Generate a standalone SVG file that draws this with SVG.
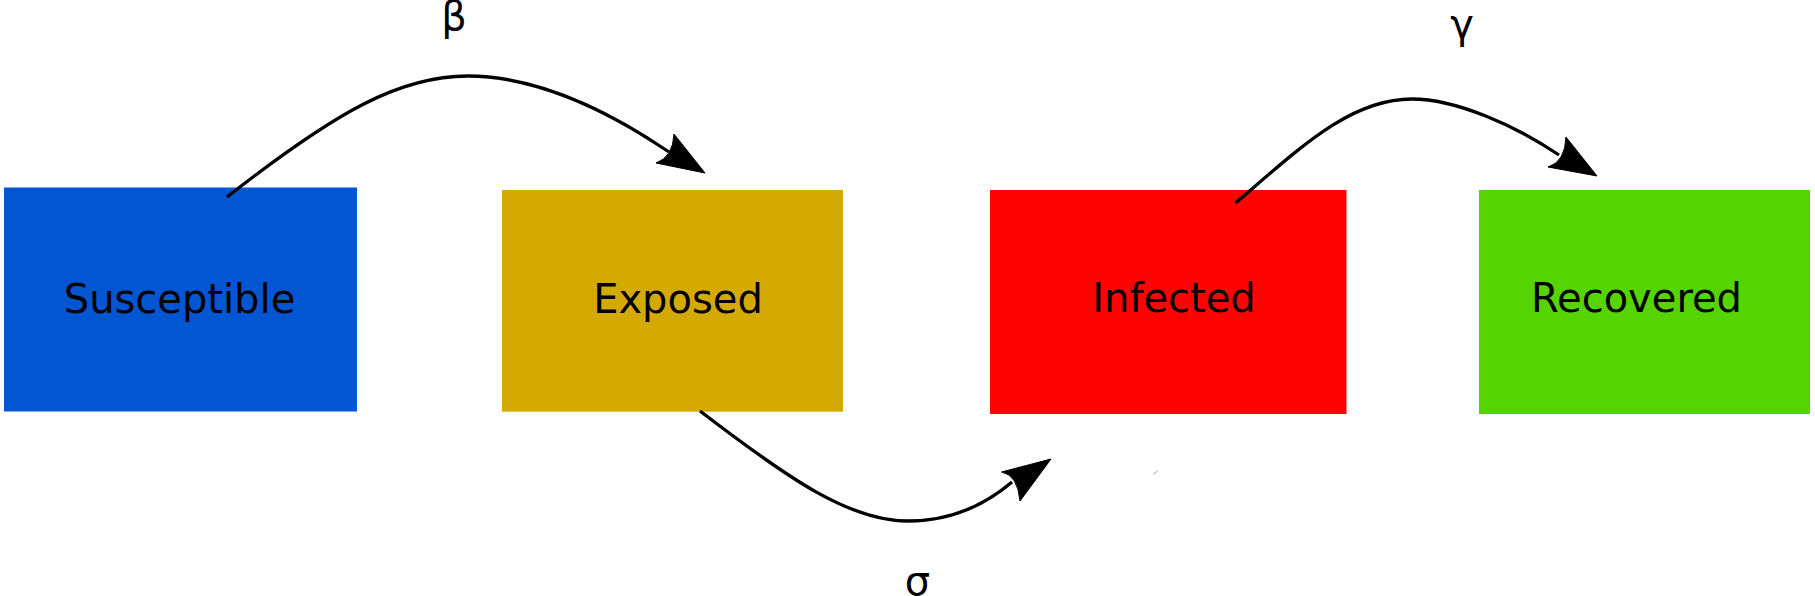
<svg xmlns="http://www.w3.org/2000/svg" width="1815" height="596" viewBox="0 0 1815 596">
<style>
.lbl{font-family:"DejaVu Sans",sans-serif;font-size:40px;fill:#000;text-anchor:middle}
.con{fill:none;stroke:#000;stroke-width:3.3;stroke-linecap:butt}
.head{fill:#000;stroke:#000;stroke-width:1;stroke-linejoin:round}
</style>
<rect width="1815" height="596" fill="#fff"/>
<g id="susceptible">
<rect x="4" y="187.5" width="353" height="224" fill="#0356d2"/>
<text class="lbl" x="179.5" y="312.5">Susceptible</text>
</g>
<g id="exposed">
<rect x="502" y="190" width="341" height="221.7" fill="#d4aa02"/>
<text class="lbl" x="678" y="312.5">Exposed</text>
</g>
<g id="infected">
<rect x="990" y="190" width="356.5" height="224" fill="#ff0303"/>
<text class="lbl" x="1174" y="311.7">Infected</text>
</g>
<g id="recovered">
<rect x="1479" y="190" width="331" height="224" fill="#55d402"/>
<text class="lbl" x="1636.5" y="311.7">Recovered</text>
</g>
<g id="connectors">
<path class="con" d="M227,197 C337,111 400,76 468,76 C530,76 600,105 669,152"/>
<path class="head" d="M705,173 L674,134 Q673,157 656,163 Z"/>
<path class="con" d="M700,411 C790,480 850,521 908,521 C950,521 985,505 1012,482"/>
<path class="head" d="M1051,459 L1001.5,472 Q1017.7,475 1020,501 Z"/>
<path class="con" d="M1235.5,203 C1300,148 1350,99 1412,99 C1455,99 1515,125 1559,155"/>
<path class="head" d="M1597,176 L1566,137 Q1565,162 1548,167 Z"/>
<line x1="1153" y1="474.5" x2="1158" y2="470.5" stroke="#999" stroke-width="0.8"/>
</g>
<g id="labels">
<text class="lbl" x="454" y="30">β</text>
<text class="lbl" x="1462" y="38">γ</text>
<text class="lbl" x="917.5" y="595">σ</text>
</g>
</svg>
